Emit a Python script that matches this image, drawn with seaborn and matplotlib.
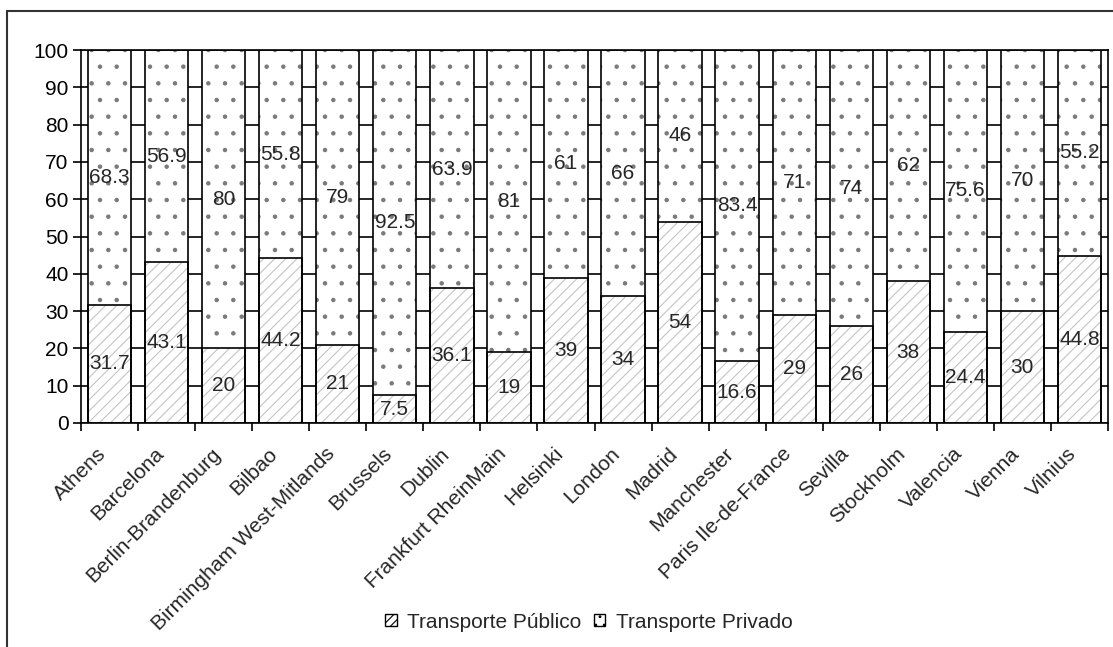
import numpy as np
import pandas as pd
import matplotlib
matplotlib.use("Agg")
import matplotlib.pyplot as plt
import matplotlib.transforms as mtransforms
from matplotlib.patches import Patch
from matplotlib.lines import Line2D
import seaborn as sns

cities = ["Athens", "Barcelona", "Berlin-Brandenburg", "Bilbao",
          "Birmingham West-Mitlands", "Brussels", "Dublin",
          "Frankfurt RheinMain", "Helsinki", "London", "Madrid",
          "Manchester", "Paris Ile-de-France", "Sevilla", "Stockholm",
          "Valencia", "Vienna", "Vilnius"]
publico = [31.7, 43.1, 20, 44.2, 21, 7.5, 36.1, 19, 39, 34, 54, 16.6, 29, 26, 38, 24.4, 30, 44.8]
privado = [68.3, 56.9, 80, 55.8, 79, 92.5, 63.9, 81, 61, 66, 46, 83.4, 71, 74, 62, 75.6, 70, 55.2]
yticks = list(range(0, 101, 10))

df = pd.DataFrame({"city": cities, "publico": publico, "privado": privado})
df["total"] = df["publico"] + df["privado"]

sns.set_style("ticks")
plt.rcParams["font.family"] = ["Liberation Sans", "DejaVu Sans"]
plt.rcParams["hatch.linewidth"] = 0.8

fig = plt.figure(figsize=(11.13, 6.47), dpi=100)
ax = fig.add_axes([81 / 1113, 1 - 423 / 647, (1108 - 81) / 1113, (423 - 50) / 647])

bw = 0.76
# private part: full bar with dots
sns.barplot(data=df, x="city", y="total", color="white", edgecolor="#7a7a7a",
            linewidth=0, hatch=".", width=bw, errorbar=None, ax=ax, zorder=2)
# public part: white with light diagonal hatch
sns.barplot(data=df, x="city", y="publico", color="white", edgecolor="#c4c4c4",
            linewidth=0, hatch="///", width=bw, errorbar=None, ax=ax, zorder=3)
# outlines
sns.barplot(data=df, x="city", y="total", fill=False, color="black",
            linewidth=1.2, width=bw, errorbar=None, ax=ax, zorder=4)
sns.barplot(data=df, x="city", y="publico", fill=False, color="black",
            linewidth=1.2, width=bw, errorbar=None, ax=ax, zorder=4)

for i, (p, q) in enumerate(zip(publico, privado)):
    ax.text(i, p / 2, f"{p:g}", ha="center", va="center", fontsize=15, zorder=5)
    ax.text(i, p + q / 2, f"{q:g}", ha="center", va="center", fontsize=15, zorder=5)

ax.set_ylim(0, 100)
ax.set_xlim(-0.5, len(cities) - 0.5)
ax.set_yticks(yticks)
ax.set_axisbelow(True)
ax.yaxis.grid(True, color="black", linewidth=1.2)
ax.set_xlabel("")
ax.set_ylabel("")

for s in ax.spines.values():
    s.set_visible(True)
    s.set_color("black")
    s.set_linewidth(1.2)

ax.tick_params(axis="y", length=6, width=1.2, labelsize=15, colors="black", pad=3)
ax.set_xticks(np.arange(len(cities)))
ax.set_xticks(np.arange(len(cities) + 1) - 0.5, minor=True)
ax.tick_params(axis="x", which="major", length=0, labelsize=15, pad=20)
ax.tick_params(axis="x", which="minor", length=6, width=1.2, color="black")
ax.set_xticklabels(cities, rotation=45, ha="right", va="center", rotation_mode="anchor")
offset = mtransforms.ScaledTranslation(-6 / 100, 0, fig.dpi_scale_trans)
for lab in ax.get_xticklabels():
    lab.set_transform(lab.get_transform() + offset)

handles = [Patch(facecolor="white", edgecolor="#a0a0a0", hatch="////", linewidth=0),
           Patch(facecolor="white", edgecolor="black", hatch="..", linewidth=1)]
leg = fig.legend(handles, ["Transporte Público", "Transporte Privado"],
                 loc="center", bbox_to_anchor=(589 / 1113, 1 - 622 / 647), ncol=2,
                 frameon=False, fontsize=15, handlelength=0.55, handleheight=0.55,
                 handletextpad=0.5, columnspacing=0.6)
for h in leg.legend_handles:
    h.set_edgecolor("black")
    h.set_linewidth(1)

# outer frame (left and top edges)
fig.add_artist(Line2D([7 / 1113, 7 / 1113], [0, 1 - 11 / 647], transform=fig.transFigure,
                      color="#333333", linewidth=1.5))
fig.add_artist(Line2D([7 / 1113, 1], [1 - 11 / 647, 1 - 11 / 647], transform=fig.transFigure,
                      color="#333333", linewidth=1.5))

fig.savefig("out.png", dpi=100)
